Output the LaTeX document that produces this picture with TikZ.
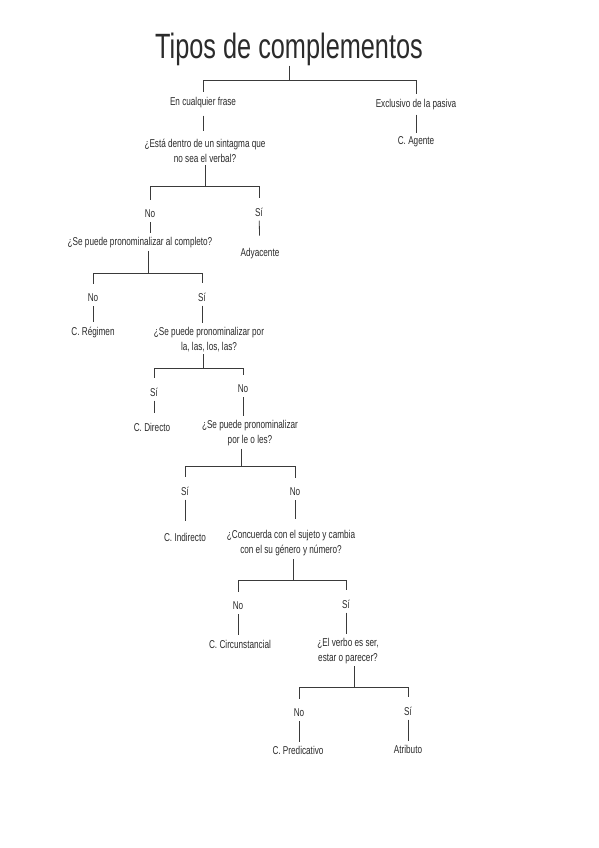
\documentclass[tikz,border=0pt]{standalone}
\usepackage{fontspec}
\setmainfont{Liberation Sans}
\newfontfamily\hand[FakeStretch=0.72]{Liberation Sans}
\usetikzlibrary{positioning,calc}
\definecolor{inkgray}{HTML}{2B2B2B}
\definecolor{linegray}{HTML}{3A3A3A}

\begin{document}
\begin{tikzpicture}[x=0.03cm,y=-0.03cm,
 txt/.style={font=\fontsize{9.7}{12.8}\selectfont\hand,text=inkgray,inner sep=2pt,align=center},
 head/.style={font=\fontsize{30}{34}\selectfont\hand,text=inkgray,inner sep=0pt},
 link/.style={draw=linegray,line width=0.7pt},
 stem/.style={link,shorten <=1.5pt,shorten >=1.5pt},
 branch/.style={link,shorten >=6pt}]

% Page
\fill[white] (0,0) rectangle (599,848);
\useasboundingbox (0,0) rectangle (599,848);

% Title and first split
\node[head] (title) at (289,49) {Tipos de complementos};
\node[txt] (any) at (203,103) {En cualquier frase};
\node[txt] (pass) at (416,105) {Exclusivo de la pasiva};
\node[txt] (agent) at (416,142) {C. Agente};
\node[txt] (q1) at (205,150.5) {¿Está dentro de un sintagma que\\no sea el verbal?};

% Inside another phrase?
\node[txt] (no1) at (150,214) {No};
\node[txt] (si1) at (259,212) {Sí};
\node[txt] (q2) at (140,243) {¿Se puede pronominalizar al completo?};
\node[txt] (adj) at (260,254) {Adyacente};

% Full pronoun?
\node[txt] (no2) at (93,298) {No};
\node[txt] (si2) at (202,297) {Sí};
\node[txt] (reg) at (93,332) {C. Régimen};
\node[txt] (q3) at (209,339.5) {¿Se puede pronominalizar por\\la, las, los, las?};

% lo, la, los, las?
\node[txt] (si3) at (154,392) {Sí};
\node[txt] (no3) at (243,389) {No};
\node[txt] (dir) at (152,427) {C. Directo};
\node[txt] (q4) at (250,433.5) {¿Se puede pronominalizar\\por le o les?};

% le, les?
\node[txt] (si4) at (185,491) {Sí};
\node[txt] (no4) at (295,492) {No};
\node[txt] (ind) at (185,537) {C. Indirecto};
\node[txt] (q5) at (291,543.5) {¿Concuerda con el sujeto y cambia\\con el su género y número?};

% Agreement?
\node[txt] (no5) at (238,606) {No};
\node[txt] (si5) at (346,604) {Sí};
\node[txt] (circ) at (240,644) {C. Circunstancial};
\node[txt] (q6) at (348,651) {¿El verbo es ser,\\estar o parecer?};

% Copulative verb?
\node[txt] (no6) at (299,713) {No};
\node[txt] (si6) at (408,711) {Sí};
\node[txt] (pred) at (298,750) {C. Predicativo};
\node[txt] (attr) at (408,749) {Atributo};

% Junctions of the splits
\coordinate (j0) at (289,80);
\coordinate (j1) at (205,186);
\coordinate (j2) at (148,273);
\coordinate (j3) at (203,368);
\coordinate (j4) at (241,466);
\coordinate (j5) at (293,580);
\coordinate (j6) at (354,687);

% Tree connectors
\draw[link] (title.south -| j0) -- (j0);
\draw[link,shorten >=3pt] (j0) -| (any.north);
\draw[link,shorten >=3pt] (j0) -| (pass.north);
\draw[stem,shorten <=4pt,shorten >=4pt] (any) -- (any |- q1.north);
\draw[stem] (pass) -- (pass |- agent.north);

\draw[link] (q1.south -| j1) -- (j1);
\draw[branch] (j1) -| (no1.north);
\draw[branch] (j1) -| (si1.north);
\draw[stem] (no1) -- (no1 |- q2.north);
\draw[stem,shorten >=9pt] (si1) -- (adj);

\draw[link] (q2.south -| j2) -- (j2);
\draw[branch] (j2) -| (no2.north);
\draw[branch] (j2) -| (si2.north);
\draw[stem] (no2) -- (no2 |- reg.north);
\draw[stem] (si2) -- (si2 |- q3.north);

\draw[link] (q3.south -| j3) -- (j3);
\draw[branch] (j3) -| (si3.north);
\draw[branch] (j3) -| (no3.north);
\draw[stem,shorten >=6pt] (si3) -- (si3 |- dir.north);
\draw[stem] (no3) -- (no3 |- q4.north);

\draw[link] (q4.south -| j4) -- (j4);
\draw[branch] (j4) -| (si4.north);
\draw[branch] (j4) -| (no4.north);
\draw[stem,shorten >=8pt] (si4) -- (si4 |- ind.north);
\draw[stem,shorten >=8pt] (no4) -- (no4 |- q5.north);

\draw[link] (q5.south -| j5) -- (j5);
\draw[branch] (j5) -| (no5.north);
\draw[branch] (j5) -| (si5.north);
\draw[stem] (no5) -- (no5 |- circ.north);
\draw[stem] (si5) -- (si5 |- q6.north);

\draw[link] (q6.south -| j6) -- (j6);
\draw[branch] (j6) -| (no6.north);
\draw[branch] (j6) -| (si6.north);
\draw[stem] (no6) -- (no6 |- pred.north);
\draw[stem] (si6) -- (si6 |- attr.north);
\end{tikzpicture}
\end{document}
